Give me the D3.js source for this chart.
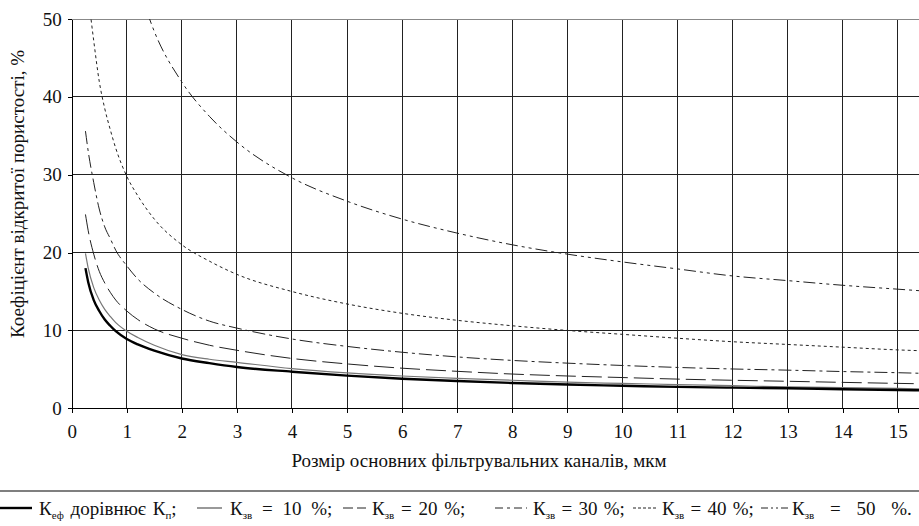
<!DOCTYPE html>
<html><head><meta charset="utf-8">
<script src="https://cdn.jsdelivr.net/npm/d3@7"></script>
<style>
html,body{margin:0;padding:0;background:#fff;}
svg{display:block;}
</style></head>
<body>
<svg id="chart" width="919" height="526"></svg>
<script>
// ---- data ----
const sizes   = [0.25, 0.3, 0.4, 0.5, 0.6, 0.7, 0.8, 1, 1.2, 1.5, 2, 2.5, 3, 4, 5, 6, 7, 8, 9, 10, 11, 12, 13, 14, 15, 15.4];
const kefEqKp = [18.0, 16.2, 13.9, 12.5, 11.4, 10.6, 9.9, 8.9, 8.2, 7.4, 6.4, 5.8, 5.3, 4.7, 4.2, 3.8, 3.5, 3.25, 3.05, 2.9, 2.75, 2.65, 2.57, 2.45, 2.35, 2.32];
const kzv10   = [19.9, 18.0, 15.5, 13.9, 12.7, 11.8, 11.0, 9.9, 9.1, 8.1, 6.9, 6.3, 5.9, 5.1, 4.55, 4.15, 3.85, 3.6, 3.35, 3.2, 3.05, 2.9, 2.75, 2.65, 2.55, 2.5];
const kzv20   = [24.9, 22.8, 19.8, 17.6, 16.1, 14.9, 13.9, 12.5, 11.4, 10.2, 9.0, 8.1, 7.45, 6.4, 5.7, 5.15, 4.75, 4.4, 4.15, 3.95, 3.75, 3.6, 3.47, 3.33, 3.2, 3.15];
const kzv30   = [35.6, 33.0, 29.0, 25.6, 23.3, 21.8, 20.3, 18.3, 16.6, 14.8, 12.7, 11.2, 10.3, 8.9, 7.95, 7.2, 6.6, 6.15, 5.8, 5.5, 5.25, 5.05, 4.9, 4.72, 4.57, 4.5];
const kzv40   = [null, 53.0, 47.2, 42.0, 38.5, 35.8, 33.4, 29.8, 27.3, 24.3, 21.0, 18.9, 17.2, 15.0, 13.4, 12.2, 11.3, 10.6, 10.0, 9.5, 9.0, 8.55, 8.2, 7.85, 7.5, 7.4];
const kzv50   = [null, null, null, null, null, null, null, null, 54.5, 48.4, 41.9, 37.5, 34.2, 29.6, 26.6, 24.3, 22.5, 21.0, 19.8, 18.8, 17.9, 17.0, 16.4, 15.8, 15.3, 15.1];

const xTickValues = [0, 1, 2, 3, 4, 5, 6, 7, 8, 9, 10, 11, 12, 13, 14, 15];
const yTickValues = [0, 10, 20, 30, 40, 50];
const xTitle = "Розмір основних фільтрувальних каналів, мкм";
const yTitle = "Коефіцієнт відкритої пористості, %";
const legendPercents = ["10 %", "20 %", "30 %", "40 %", "50 %"];

// ---- layout ----
const FONT = "'Liberation Serif', serif";
const svg = d3.select("#chart");
const x = d3.scaleLinear().domain([0, 15.4]).range([71.7, 919.8]);
const y = d3.scaleLinear().domain([0, 50]).range([408.3, 19]);
const gridColor = "#222";

svg.append("defs").append("clipPath").attr("id", "plotclip")
  .append("rect").attr("x", x(0)).attr("y", y(50)).attr("width", x(15.4) - x(0)).attr("height", y(0) - y(50));

// grid
const grid = svg.append("g").attr("shape-rendering", "crispEdges");
grid.selectAll("line.v").data(xTickValues.filter(d => d > 0)).join("line")
  .attr("x1", d => x(d)).attr("x2", d => x(d)).attr("y1", y(0)).attr("y2", y(50))
  .attr("stroke", gridColor).attr("stroke-width", 1);
grid.selectAll("line.h").data(yTickValues.filter(d => d > 0)).join("line")
  .attr("x1", x(0)).attr("x2", x(15.4)).attr("y1", d => y(d)).attr("y2", d => y(d))
  .attr("stroke", d => d === 50 ? "#888" : gridColor).attr("stroke-width", 1);

// axes
const ax = svg.append("g").attr("transform", `translate(0,${y(0)})`)
  .call(d3.axisBottom(x).tickValues(xTickValues).tickSize(5).tickSizeOuter(0).tickPadding(11).tickFormat(d3.format("d")));
const ay = svg.append("g").attr("transform", `translate(${x(0)},0)`)
  .call(d3.axisLeft(y).tickValues(yTickValues).tickSize(4).tickSizeOuter(0).tickPadding(6).tickFormat(d3.format("d")));
[ax, ay].forEach(g => {
  g.attr("shape-rendering", "crispEdges").attr("font-family", null).attr("font-size", null);
  g.select(".domain").attr("stroke", "#000").attr("stroke-width", 1);
  g.selectAll(".tick line").attr("stroke", "#000");
  g.selectAll(".tick text").attr("fill", "#111").style("font-family", FONT).style("font-size", "19px");
});

// titles
svg.append("text").attr("x", 479).attr("y", 467).attr("text-anchor", "middle")
  .style("font-family", FONT).style("font-size", "19px").attr("fill", "#111").text(xTitle);
svg.append("text").attr("transform", "translate(24,194) rotate(-90)").attr("text-anchor", "middle")
  .style("font-family", FONT).style("font-size", "19px").attr("fill", "#111").text(yTitle);

// series
const seriesDefs = [
  { values: kzv50,   dash: "12,4,3,4,3,4", color: "#222", width: 1 },
  { values: kzv40,   dash: "3,3",          color: "#222", width: 1 },
  { values: kzv30,   dash: "13,4,3,4",     color: "#222", width: 1 },
  { values: kzv20,   dash: "20,6",         color: "#222", width: 1 },
  { values: kzv10,   dash: null,           color: "#777", width: 1.2 },
  { values: kefEqKp, dash: null,           color: "#000", width: 2.4 }
];
const line = d3.line().defined(d => d[1] != null).x(d => x(d[0])).y(d => y(d[1])).curve(d3.curveMonotoneX);
const plot = svg.append("g").attr("clip-path", "url(#plotclip)");
seriesDefs.forEach(s => {
  plot.append("path").datum(sizes.map((v, i) => [v, s.values[i]]))
    .attr("d", line).attr("fill", "none").attr("stroke", s.color)
    .attr("stroke-width", s.width).attr("stroke-dasharray", s.dash);
});

// legend separator
svg.append("line").attr("x1", 0).attr("x2", 919).attr("y1", 491).attr("y2", 491)
  .attr("stroke", "#555").attr("stroke-width", 1.6);

// legend
const ly = 515, lsy = 508;
const legendItems = [
  { x1: 0,   x2: 32,  dash: null,          w: 2.4, color: "#000", tx: 39,  ws: 2,  main: "К", sub: "еф", rest: " дорівнює К", sub2: "п", tail: ";" },
  { x1: 197, x2: 222, dash: null,          w: 1.2, color: "#555", tx: 230, ws: 5,  main: "К", sub: "зв", rest: " = " + legendPercents[0] + ";" },
  { x1: 343, x2: 366, dash: "10,4",        w: 1,   color: "#222", tx: 372, ws: 2,  main: "К", sub: "зв", rest: " = " + legendPercents[1] + ";" },
  { x1: 495, x2: 527, dash: "8,4,3,4",     w: 1,   color: "#222", tx: 533, ws: 1.5, main: "К", sub: "зв", rest: " = " + legendPercents[2] + ";" },
  { x1: 633, x2: 656, dash: "3,2",         w: 1,   color: "#222", tx: 662, ws: 1.5, main: "К", sub: "зв", rest: " = " + legendPercents[3] + ";" },
  { x1: 761, x2: 788, dash: "7,3,2,3,2,3", w: 1,   color: "#222", tx: 792, ws: 11, main: "К", sub: "зв", rest: " = " + legendPercents[4] + "." }
];
const lg = svg.append("g");
legendItems.forEach(it => {
  lg.append("line").attr("x1", it.x1).attr("x2", it.x2).attr("y1", lsy).attr("y2", lsy)
    .attr("stroke", it.color).attr("stroke-width", it.w).attr("stroke-dasharray", it.dash);
  const t = lg.append("text").attr("x", it.tx).attr("y", ly)
    .style("font-family", FONT).style("font-size", "19px").attr("fill", "#111").style("word-spacing", it.ws + "px");
  t.append("tspan").text(it.main);
  t.append("tspan").style("font-size", "11px").attr("dy", 4).text(it.sub);
  t.append("tspan").attr("dy", -4).text(it.rest);
  if (it.sub2) {
    t.append("tspan").style("font-size", "11px").attr("dy", 4).text(it.sub2);
    t.append("tspan").attr("dy", -4).text(it.tail);
  }
});
</script>
</body></html>
